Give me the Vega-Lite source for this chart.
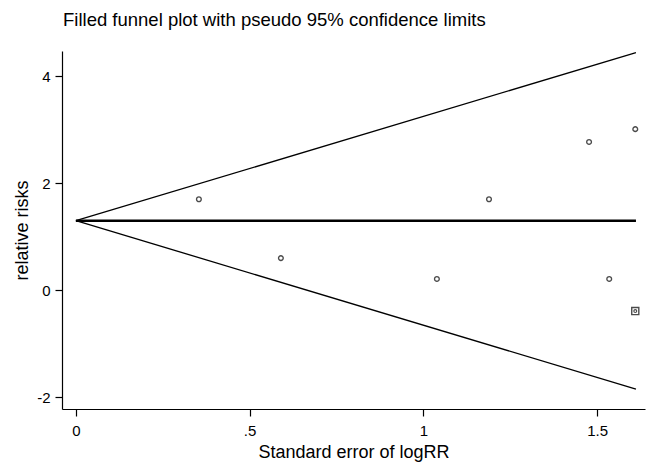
{
  "$schema": "https://vega.github.io/schema/vega-lite/v6.json",
  "width": 583,
  "height": 358,
  "autosize": {"type": "none"},
  "padding": {"left": 62, "top": 51, "right": 5, "bottom": 56},
  "background": "white",
  "title": {
    "text": "Filled funnel plot with pseudo 95% confidence limits",
    "anchor": "start",
    "frame": "group",
    "dx": 1,
    "offset": 22,
    "font": "Liberation Sans",
    "fontSize": 18.5,
    "fontWeight": "normal",
    "color": "black"
  },
  "config": {
    "view": {"stroke": null},
    "axis": {
      "grid": false,
      "domainColor": "black",
      "tickColor": "black",
      "labelColor": "black",
      "titleColor": "black",
      "labelFont": "Liberation Sans",
      "titleFont": "Liberation Sans",
      "labelFontSize": 15,
      "titleFontSize": 18,
      "titleFontWeight": "normal",
      "tickSize": 7,
      "domainWidth": 1.2,
      "tickWidth": 1.2
    }
  },
  "datasets": {
    "studies": [
      {"se": 0.354, "rr": 1.70, "kind": "observed"},
      {"se": 0.590, "rr": 0.60, "kind": "observed"},
      {"se": 1.039, "rr": 0.21, "kind": "observed"},
      {"se": 1.189, "rr": 1.70, "kind": "observed"},
      {"se": 1.477, "rr": 2.77, "kind": "observed"},
      {"se": 1.535, "rr": 0.21, "kind": "observed"},
      {"se": 1.610, "rr": 3.01, "kind": "observed"},
      {"se": 1.610, "rr": -0.39, "kind": "filled"}
    ],
    "lines": [
      {"x0": 0, "y0": 1.3, "x1": 1.612, "y1": 4.44, "kind": "limit"},
      {"x0": 0, "y0": 1.3, "x1": 1.612, "y1": -1.85, "kind": "limit"},
      {"x0": 0, "y0": 1.3, "x1": 1.612, "y1": 1.3, "kind": "pooled"}
    ]
  },
  "layer": [
    {
      "data": {"name": "lines"},
      "transform": [{"filter": "datum.kind === 'limit'"}],
      "mark": {"type": "rule", "color": "black", "strokeWidth": 1.3},
      "encoding": {
        "x": {"field": "x0", "type": "quantitative",
              "scale": {"domain": [-0.04, 1.638], "nice": false, "zero": false},
              "axis": {"values": [0, 0.5, 1, 1.5], "labelExpr": "datum.value === 0 ? '0' : datum.value === 0.5 ? '.5' : datum.value === 1 ? '1' : '1.5'", "title": "Standard error of logRR", "titlePadding": 5, "labelPadding": 7}},
        "y": {"field": "y0", "type": "quantitative",
              "scale": {"domain": [-2.22, 4.47], "nice": false, "zero": false},
              "axis": {"values": [-2, 0, 2, 4], "labelExpr": "'' + datum.value", "title": "relative risks", "titlePadding": 5, "labelPadding": 5}},
        "x2": {"field": "x1"},
        "y2": {"field": "y1"}
      }
    },
    {
      "data": {"name": "lines"},
      "transform": [{"filter": "datum.kind === 'pooled'"}],
      "mark": {"type": "rule", "color": "black", "strokeWidth": 2.5},
      "encoding": {
        "x": {"field": "x0", "type": "quantitative"},
        "y": {"field": "y0", "type": "quantitative"},
        "x2": {"field": "x1"},
        "y2": {"field": "y1"}
      }
    },
    {
      "data": {"name": "studies"},
      "transform": [{"filter": "datum.kind === 'observed'"}],
      "mark": {"type": "point", "shape": "circle", "filled": false, "color": "black", "size": 22, "strokeWidth": 1.4},
      "encoding": {
        "x": {"field": "se", "type": "quantitative"},
        "y": {"field": "rr", "type": "quantitative"}
      }
    },
    {
      "data": {"name": "studies"},
      "transform": [{"filter": "datum.kind === 'filled'"}],
      "mark": {"type": "point", "shape": "square", "filled": false, "color": "black", "size": 50, "strokeWidth": 1.4},
      "encoding": {
        "x": {"field": "se", "type": "quantitative"},
        "y": {"field": "rr", "type": "quantitative"}
      }
    },
    {
      "data": {"name": "studies"},
      "transform": [{"filter": "datum.kind === 'filled'"}],
      "mark": {"type": "point", "shape": "circle", "filled": false, "color": "black", "size": 8, "strokeWidth": 1.2},
      "encoding": {
        "x": {"field": "se", "type": "quantitative"},
        "y": {"field": "rr", "type": "quantitative"}
      }
    }
  ]
}
